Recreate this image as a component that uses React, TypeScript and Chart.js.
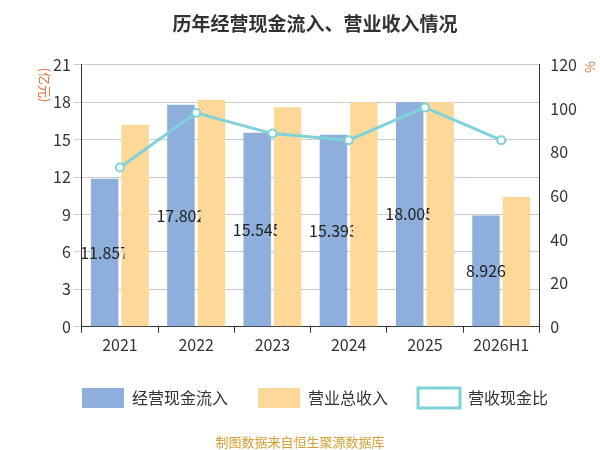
import React, { useEffect, useRef } from "react";
import { Chart, registerables } from "chart.js";
Chart.register(...registerables);

const categories = ["2021", "2022", "2023", "2024", "2025", "2026H1"];
const cashInflow = [11.857, 17.802, 15.545, 15.393, 18.005, 8.926];
const revenue = [16.2, 18.2, 17.6, 18.0, 18.0, 10.4];
const ratio = [73, 98, 88.5, 85.5, 100.5, 85.5];
const leftTicks = [0, 3, 6, 9, 12, 15, 18, 21];

const FONT = "'Microsoft YaHei','Noto Sans CJK SC','Noto Sans',sans-serif";

const labelPlugin = {
  id: "labels",
  afterDatasetsDraw(chart: any) {
    const ctx = chart.ctx;
    const meta = chart.getDatasetMeta(1);
    ctx.save();
    ctx.font = `16px ${FONT}`;
    ctx.fillStyle = "#222";
    ctx.textAlign = "center";
    ctx.textBaseline = "middle";
    meta.data.forEach((bar: any, i: number) => {
      const w = bar.width;
      const midY = (bar.y + bar.base) / 2;
      ctx.save();
      ctx.beginPath();
      ctx.rect(bar.x - w / 2 - 14, midY - 15, w + 20, 30);
      ctx.clip();
      ctx.fillText(cashInflow[i].toFixed(3), bar.x, midY);
      ctx.restore();
    });
    ctx.fillStyle = "#e8733a";
    ctx.font = `13px ${FONT}`;
    ctx.save();
    ctx.translate(45, 85);
    ctx.rotate(Math.PI / 2);
    ctx.fillText("(亿元)", 0, 0);
    ctx.restore();
    ctx.save();
    ctx.translate(590, 67);
    ctx.rotate(Math.PI / 2);
    ctx.fillText("%", 0, 0);
    ctx.restore();
    ctx.restore();
  },
};

export default function App() {
  const ref = useRef<HTMLCanvasElement>(null);
  useEffect(() => {
    const chart = new Chart(ref.current!, {
      type: "bar",
      data: {
        labels: categories,
        datasets: [
          { type: "line", label: "营收现金比", data: ratio, yAxisID: "y1", borderColor: "#7fd3d8", backgroundColor: "#fff", borderWidth: 3, pointRadius: 4, pointBorderWidth: 2, pointBackgroundColor: "#fff", pointBorderColor: "#7fd3d8", order: 0 } as any,
          { label: "经营现金流入", data: cashInflow, backgroundColor: "#8eaedc", yAxisID: "y", order: 1, categoryPercentage: 0.8, barPercentage: 0.9 },
          { label: "营业总收入", data: revenue, backgroundColor: "#fed899", yAxisID: "y", order: 2, categoryPercentage: 0.8, barPercentage: 0.9 },
        ],
      },
      options: {
        animation: false,
        responsive: false,
        layout: { padding: { left: 50, right: 20, top: 8, bottom: 32 } },
        plugins: {
          title: { display: true, text: "历年经营现金流入、营业收入情况", color: "#333", font: { size: 19, weight: "bold", family: FONT }, padding: { top: 4, bottom: 30 } },
          legend: {
            position: "bottom",
            labels: {
              color: "#333",
              font: { size: 16, family: FONT },
              boxWidth: 42,
              boxHeight: 20,
              padding: 30,
              sort: (a: any, b: any) => (a.datasetIndex === 0 ? 1 : b.datasetIndex === 0 ? -1 : a.datasetIndex - b.datasetIndex),
            },
          },
          tooltip: { enabled: false },
        },
        scales: {
          x: {
            grid: { display: true, drawOnChartArea: false, offset: true, tickLength: 6, color: "#333" },
            border: { color: "#333" },
            ticks: { color: "#333", font: { size: 16, family: FONT } },
          },
          y: {
            min: 0, max: 21,
            afterBuildTicks: (s: any) => { s.ticks = leftTicks.map((v) => ({ value: v })); },
            grid: { color: "#ccc" },
            border: { color: "#333" },
            ticks: { color: "#333", font: { size: 16, family: FONT } },
          },
          y1: {
            position: "right",
            min: 0, max: 120,
            ticks: { stepSize: 20, color: "#333", font: { size: 16, family: FONT } },
            grid: { display: false },
            border: { color: "#333" },
          },
        },
      },
      plugins: [labelPlugin],
    } as any);
    return () => chart.destroy();
  }, []);
  return (
    <div style={{ position: "absolute", left: 0, top: 0, width: 600, height: 450, background: "#fff" }}>
      <canvas ref={ref} width={600} height={450} />
      <div style={{ position: "absolute", left: 0, width: 600, top: 432, textAlign: "center", color: "#d4a033", fontSize: 13, fontFamily: FONT }}>
        制图数据来自恒生聚源数据库
      </div>
    </div>
  );
}
